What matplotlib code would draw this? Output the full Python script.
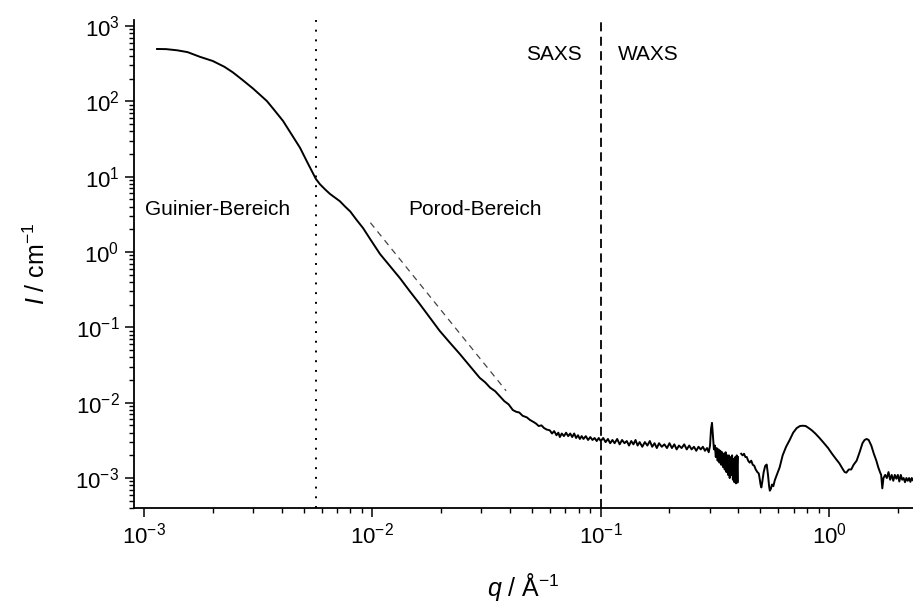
import math
import matplotlib
matplotlib.use('Agg')
import matplotlib.pyplot as plt
from matplotlib.ticker import FixedLocator, LogLocator, FuncFormatter, NullFormatter

plt.rcParams['font.family'] = ['Liberation Sans', 'DejaVu Sans']
plt.rcParams['mathtext.fontset'] = 'custom'
plt.rcParams['mathtext.rm'] = 'Liberation Sans'
plt.rcParams['mathtext.it'] = 'Liberation Sans:italic'
plt.rcParams['mathtext.default'] = 'regular'

# SAXS part, smooth decay (q in 1/A, I in 1/cm)
q_decay = [0.00114, 0.00125, 0.00140, 0.00155, 0.00176, 0.0020, 0.00225, 0.00245,
           0.0027, 0.0030, 0.00345, 0.0037, 0.00406, 0.0045, 0.00482, 0.0052,
           0.0055, 0.00566, 0.00589, 0.0062, 0.00652, 0.0069, 0.0072, 0.0076,
           0.0080, 0.0085, 0.0091, 0.0098, 0.0108, 0.0120, 0.0132, 0.0146,
           0.0161, 0.0178, 0.0197, 0.0218, 0.0241, 0.0266, 0.0295, 0.0312,
           0.0328, 0.0345, 0.0361, 0.0378, 0.0395]
i_decay = [495, 493, 475, 450, 389, 343, 287, 242,
           192, 148, 101, 78, 55, 33.6, 24.2, 15.3,
           11.0, 9.3, 7.95, 6.8, 5.9, 5.2, 4.73, 4.0,
           3.45, 2.7, 2.08, 1.47, 0.94, 0.64, 0.45, 0.30,
           0.205, 0.136, 0.090, 0.063, 0.0446, 0.0311, 0.0214, 0.0186,
           0.0158, 0.0142, 0.0122, 0.0105, 0.0095]

# flat, noisy background up to the gap near 0.4
q_flat = [0.0412, 0.0425, 0.0440, 0.0455, 0.0474, 0.0490, 0.0505, 0.0520, 0.0535,
          0.0550, 0.0565, 0.0580, 0.0598, 0.0612, 0.0625, 0.0640, 0.0652, 0.0662,
          0.0675, 0.0690, 0.0705, 0.0720, 0.0735, 0.0750, 0.0765, 0.0780, 0.0795,
          0.0810, 0.0825, 0.0840, 0.0860, 0.0880, 0.0900, 0.0920, 0.0940, 0.0960,
          0.0980, 0.1000, 0.1025, 0.1050, 0.1075, 0.1100, 0.1125, 0.1150, 0.1180,
          0.1210, 0.1240, 0.1270, 0.1300, 0.1330, 0.1360, 0.1390, 0.1420, 0.1450,
          0.1480, 0.1520, 0.1560, 0.1600, 0.1640, 0.1680, 0.1720, 0.1760, 0.1800,
          0.1850, 0.1900, 0.1950, 0.2000, 0.2050, 0.2100, 0.2150, 0.2200, 0.2260,
          0.2320, 0.2380, 0.2440, 0.2500, 0.2560, 0.2620, 0.2680, 0.2740, 0.2800,
          0.2860, 0.2920, 0.2970, 0.3010, 0.3040, 0.3070, 0.3100, 0.3130, 0.3160,
          0.3190, 0.3220, 0.3250, 0.3280, 0.3310, 0.3340, 0.3370, 0.3400, 0.3430,
          0.3460, 0.3490, 0.3520, 0.3550, 0.3580, 0.3610, 0.3640, 0.3670, 0.3700,
          0.3730, 0.3760, 0.3790, 0.3820, 0.3850, 0.3880, 0.3910, 0.3940, 0.3970,
          0.3990]
i_flat = [0.0080, 0.0076, 0.0074, 0.0067, 0.0064, 0.0059, 0.0056, 0.0053, 0.0049,
          0.0050, 0.0046, 0.0044, 0.0043, 0.0039, 0.0042, 0.0037, 0.0040, 0.0035,
          0.0039, 0.0036, 0.0040, 0.0036, 0.0039, 0.0035, 0.0039, 0.0034, 0.0037,
          0.0033, 0.0036, 0.0033, 0.0036, 0.0032, 0.0035, 0.0032, 0.0034, 0.0031,
          0.0034, 0.0031, 0.0034, 0.0030, 0.0033, 0.0029, 0.0032, 0.0029, 0.0033,
          0.0028, 0.0032, 0.0029, 0.0031, 0.0027, 0.0031, 0.0028, 0.0032, 0.0027,
          0.0030, 0.0026, 0.0030, 0.0027, 0.0031, 0.0026, 0.0029, 0.0025, 0.0029,
          0.0026, 0.0028, 0.0025, 0.0029, 0.0025, 0.0028, 0.0024, 0.0027, 0.0025,
          0.0028, 0.0024, 0.0027, 0.0024, 0.0026, 0.0023, 0.0026, 0.0024, 0.0026,
          0.0023, 0.0025, 0.0022, 0.0027, 0.0045, 0.0054, 0.0036, 0.0024, 0.0027,
          0.0019, 0.0025, 0.0017, 0.0024, 0.0016, 0.0023, 0.0015, 0.0022, 0.0014,
          0.0021, 0.0013, 0.0022, 0.0012, 0.0020, 0.0011, 0.0020, 0.0010, 0.0019,
          0.0011, 0.0020, 0.00095, 0.0018, 0.00088, 0.0019, 0.00085, 0.0020, 0.00087,
          0.0019]

# WAXS part after the gap
q_waxs = [0.4120, 0.4180, 0.4240, 0.4300, 0.4360, 0.4420, 0.4490, 0.4560, 0.4630,
          0.4700, 0.4770, 0.4850, 0.4920, 0.4960, 0.5010, 0.5050, 0.5100, 0.5170,
          0.5250, 0.5330, 0.5400, 0.5460, 0.5500, 0.5560, 0.5620, 0.5700, 0.5780,
          0.5900, 0.6070, 0.6260, 0.6480, 0.6720, 0.6960, 0.7210, 0.7450, 0.7660,
          0.7900, 0.8150, 0.8400, 0.8700, 0.9080, 0.9500, 0.9900, 1.0300, 1.0700,
          1.1100, 1.1500, 1.1700, 1.1900, 1.2200, 1.2500, 1.2800, 1.3200, 1.3600,
          1.4000, 1.4300, 1.4600, 1.4900, 1.5300, 1.5700, 1.6100, 1.6400, 1.6700,
          1.6900, 1.7100, 1.7300, 1.7600, 1.7900, 1.8200, 1.8500, 1.8800, 1.9100,
          1.9400, 1.9700, 2.0000, 2.0300, 2.0600, 2.0900, 2.1200, 2.1500, 2.1800,
          2.2100, 2.2400, 2.2700, 2.3000, 2.3300, 2.3500]
i_waxs = [0.0021, 0.0020, 0.0021, 0.0019, 0.0019, 0.0017, 0.0016, 0.0017, 0.0015,
          0.00146, 0.0013, 0.0012, 0.00115, 0.0010, 0.00082, 0.00075, 0.0009, 0.0012,
          0.00145, 0.00151, 0.0011, 0.00078, 0.00068, 0.00072, 0.00082, 0.00078, 0.00093,
          0.0011, 0.00138, 0.0020, 0.0026, 0.0032, 0.0040, 0.0046, 0.0049, 0.00495,
          0.0049, 0.0046, 0.0043, 0.0039, 0.0034, 0.0029, 0.0025, 0.0021, 0.0018,
          0.00156, 0.0013, 0.0012, 0.00118, 0.0013, 0.0013, 0.0015, 0.0017, 0.0022,
          0.0029, 0.0032, 0.0033, 0.0032, 0.0027, 0.0021, 0.0017, 0.0014, 0.0012,
          0.0011, 0.00073, 0.0010, 0.0011, 0.0010, 0.0012, 0.00095, 0.0011, 0.00092,
          0.0011, 0.00098, 0.0011, 0.00090, 0.0011, 0.00095, 0.0010, 0.00088, 0.0010,
          0.00092, 0.0010, 0.00089, 0.0010, 0.00093, 0.0010]

# Porod q^-4 guide line
q_porod = [0.0098, 0.0385]
i_porod = [2.45, 0.0144]

q_guinier = 0.00566   # end of Guinier range
q_split = 0.1         # SAXS / WAXS border

x_decades = [1e-3, 1e-2, 1e-1, 1e0]
y_decades = [1e-3, 1e-2, 1e-1, 1e0, 1e1, 1e2, 1e3]

fig = plt.figure(figsize=(9.13, 6.01), dpi=100)
ax = fig.add_axes([0.1468, 0.1547, 0.8532, 0.812])

ax.plot(q_decay + q_flat, i_decay + i_flat, color='black', lw=1.4)
ax.plot(q_waxs, i_waxs, color='black', lw=1.4)
ax.plot(q_porod, i_porod, color='#444444', lw=0.9, ls=(0, (5, 4)))
ax.axvline(q_guinier, color='black', lw=1.4, ls=(0, (1, 4)))
ax.axvline(q_split, color='black', lw=1.3, ls=(0, (5, 3)))

ax.set_xscale('log')
ax.set_yscale('log')
ax.set_xlim(9.04e-4, 2.33)
ax.set_ylim(4e-4, 1200)

fmt = FuncFormatter(lambda v, p: r'$\mathregular{10^{%d}}$' % round(math.log10(v)))
for axis, dec in ((ax.xaxis, x_decades), (ax.yaxis, y_decades)):
    axis.set_major_locator(FixedLocator(dec))
    axis.set_minor_locator(LogLocator(base=10, subs=range(2, 10), numticks=20))
    axis.set_major_formatter(fmt)
    axis.set_minor_formatter(NullFormatter())

ax.spines['top'].set_visible(False)
ax.spines['right'].set_visible(False)
ax.spines['left'].set_linewidth(1.3)
ax.spines['bottom'].set_linewidth(1.3)
ax.tick_params(which='major', direction='out', length=6.5, width=1.1, labelsize=16, pad=4)
ax.tick_params(which='minor', direction='out', length=3.6, width=1.0)

ax.set_xlabel(r'$\mathit{q}$ / Å$^{-1}$', fontsize=18, labelpad=16)
ax.set_ylabel(r'$\mathit{I}$ / cm$^{-1}$', fontsize=18, labelpad=18)

ax.text(1.01e-3, 3.7, 'Guinier-Bereich', fontsize=15, ha='left', va='center')
ax.text(0.0143, 3.7, 'Porod-Bereich', fontsize=15, ha='left', va='center')
ax.text(0.083, 420, 'SAXS', fontsize=15, ha='right', va='center')
ax.text(0.1186, 420, 'WAXS', fontsize=15, ha='left', va='center')

fig.savefig('out.png', dpi=100)
